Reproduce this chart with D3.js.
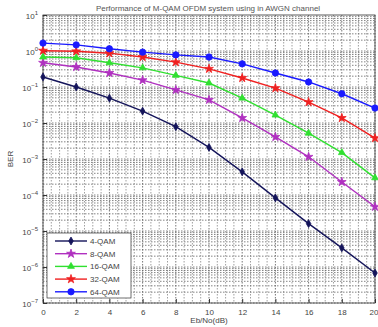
<!DOCTYPE html>
<html>
<head>
<meta charset="utf-8">
<script src="https://cdn.jsdelivr.net/npm/d3@7"></script>
<style>
  body { margin: 0; background: #fff; }
  svg { display: block; font-family: "Liberation Sans", Arial, sans-serif; }
</style>
</head>
<body>
<svg id="chart" width="378" height="327"></svg>
<script>
// Eb/No values (dB)
const ebno = [0, 2, 4, 6, 8, 10, 12, 14, 16, 18, 20];
const seriesNames = ['4-QAM', '8-QAM', '16-QAM', '32-QAM', '64-QAM'];
const ber4 = [0.19, 0.1, 0.049, 0.0214, 7.9e-3, 2.1e-3, 4.4e-4, 8.3e-5, 1.6e-5, 3.4e-6, 6.8e-7];
const ber8 = [0.47, 0.36, 0.245, 0.155, 0.083, 0.044, 0.0138, 4.1e-3, 1.15e-3, 2.3e-4, 4.7e-5];
const ber16 = [0.68, 0.65, 0.47, 0.34, 0.21, 0.129, 0.049, 0.0166, 5.2e-3, 1.5e-3, 3.0e-4];
const ber32 = [1.02, 0.98, 0.87, 0.68, 0.49, 0.32, 0.178, 0.093, 0.038, 0.0138, 3.8e-3];
const ber64 = [1.66, 1.48, 1.15, 0.93, 0.78, 0.68, 0.44, 0.245, 0.138, 0.065, 0.026];
const xTicks = [0, 2, 4, 6, 8, 10, 12, 14, 16, 18, 20];
const yExps = [1, 0, -1, -2, -3, -4, -5, -6, -7];

const colors = ['#14145a', '#b030c0', '#30e030', '#f02020', '#1a1aff'];
const markers = [d3.symbolDiamond, d3.symbolStar, d3.symbolTriangle, d3.symbolStar, d3.symbolCircle];
const markerSize = [18, 24, 20, 24, 32];
const allBer = [ber4, ber8, ber16, ber32, ber64];

const margin = { top: 15, right: 3, bottom: 24, left: 43 };
const W = 378, H = 327;
const svg = d3.select('#chart');

const x = d3.scaleLinear().domain([0, 20]).range([margin.left, W - margin.right]);
const y = d3.scaleLog().domain([1e-7, 10]).range([H - margin.bottom, margin.top]);

const g = svg.append('g');

// grid: minor vertical
const xMinor = d3.range(0, 20.01, 0.5);
g.selectAll('.vgrid').data(xMinor).enter().append('line')
  .attr('x1', d => x(d)).attr('x2', d => x(d))
  .attr('y1', y(10)).attr('y2', y(1e-7))
  .attr('stroke', d => d % 2 === 0 ? '#555' : '#888')
  .attr('stroke-width', 0.8)
  .attr('stroke-dasharray', '1.5,1.5');

// grid: horizontal (major + minor decades)
const yMinor = [];
for (let e = -7; e < 1; e++) {
  for (let m = 1; m <= 9; m++) yMinor.push(m * Math.pow(10, e));
}
g.selectAll('.hgrid').data(yMinor).enter().append('line')
  .attr('x1', x(0)).attr('x2', x(20))
  .attr('y1', d => y(d)).attr('y2', d => y(d))
  .attr('stroke', '#666')
  .attr('stroke-width', 0.8)
  .attr('stroke-dasharray', '1.5,1.5');

// frame
g.append('rect')
  .attr('x', x(0)).attr('y', y(10))
  .attr('width', x(20) - x(0)).attr('height', y(1e-7) - y(10))
  .attr('fill', 'none').attr('stroke', '#333').attr('stroke-width', 0.8);

// axes
const xAxis = d3.axisBottom(x).tickValues(xTicks).tickSize(-4).tickPadding(6);
svg.append('g')
  .attr('transform', `translate(0,${y(1e-7)})`)
  .call(xAxis)
  .call(a => a.select('.domain').remove())
  .call(a => a.selectAll('text').attr('font-size', 8).attr('fill', '#444'))
  .call(a => a.selectAll('.tick').filter(d => d === 20).select('text').attr('text-anchor', 'end').attr('dx', 3))
  .call(a => a.selectAll('line').attr('stroke', '#333'));

const yAxis = d3.axisLeft(y).tickValues(yExps.map(e => Math.pow(10, e))).tickSize(-4).tickFormat('');
svg.append('g')
  .attr('transform', `translate(${x(0)},0)`)
  .call(yAxis)
  .call(a => a.select('.domain').remove())
  .call(a => a.selectAll('line').attr('stroke', '#333'));

// y tick labels as 10^n
svg.append('g').selectAll('text').data(yExps).enter().append('text')
  .attr('x', x(0) - 5)
  .attr('y', d => y(Math.pow(10, d)) + 4)
  .attr('text-anchor', 'end')
  .attr('font-size', 8)
  .attr('fill', '#444')
  .each(function (d) {
    const t = d3.select(this);
    t.append('tspan').text('10');
    t.append('tspan').attr('dy', -4).attr('font-size', 6).text(String(d).replace('-', '\u2212'));
  });

// curves
const line = d3.line().x((d, i) => x(ebno[i])).y(d => y(d));
allBer.forEach((ber, k) => {
  svg.append('path')
    .attr('d', line(ber))
    .attr('fill', 'none')
    .attr('stroke', colors[k])
    .attr('stroke-width', 1.4);
  svg.append('g').selectAll('path').data(ber).enter().append('path')
    .attr('transform', (d, i) => `translate(${x(ebno[i])},${y(d)})`)
    .attr('d', d3.symbol().type(markers[k]).size(markerSize[k]))
    .attr('fill', colors[k])
    .attr('stroke', colors[k])
    .attr('stroke-width', 0.8);
});

// legend
const lg = svg.append('g').attr('transform', 'translate(47,233)');
lg.append('rect').attr('width', 84).attr('height', 65)
  .attr('fill', '#fff').attr('stroke', '#333').attr('stroke-width', 0.7);
seriesNames.forEach((name, k) => {
  const yy = 8 + k * 12.7;
  lg.append('line').attr('x1', 8).attr('x2', 40).attr('y1', yy).attr('y2', yy)
    .attr('stroke', colors[k]).attr('stroke-width', 1.4);
  lg.append('path').attr('transform', `translate(24,${yy})`)
    .attr('d', d3.symbol().type(markers[k]).size(markerSize[k]))
    .attr('fill', colors[k]).attr('stroke', colors[k]).attr('stroke-width', 0.8);
  lg.append('text').attr('x', 43).attr('y', yy + 3)
    .attr('font-size', 8).attr('fill', '#444').text(name);
});

// title and labels
svg.append('text')
  .attr('x', (x(0) + x(20)) / 2 - 1).attr('y', 11)
  .attr('text-anchor', 'middle').attr('font-size', 8).attr('fill', '#555')
  .text('Performance of M-QAM OFDM system using in AWGN channel');

svg.append('text')
  .attr('x', (x(0) + x(20)) / 2).attr('y', 323)
  .attr('text-anchor', 'middle').attr('font-size', 8).attr('fill', '#444')
  .text('Eb/No(dB)');

svg.append('text')
  .attr('transform', `translate(13,${(y(10) + y(1e-7)) / 2}) rotate(-90)`)
  .attr('text-anchor', 'middle').attr('font-size', 8).attr('fill', '#444')
  .text('BER');
</script>
</body>
</html>
